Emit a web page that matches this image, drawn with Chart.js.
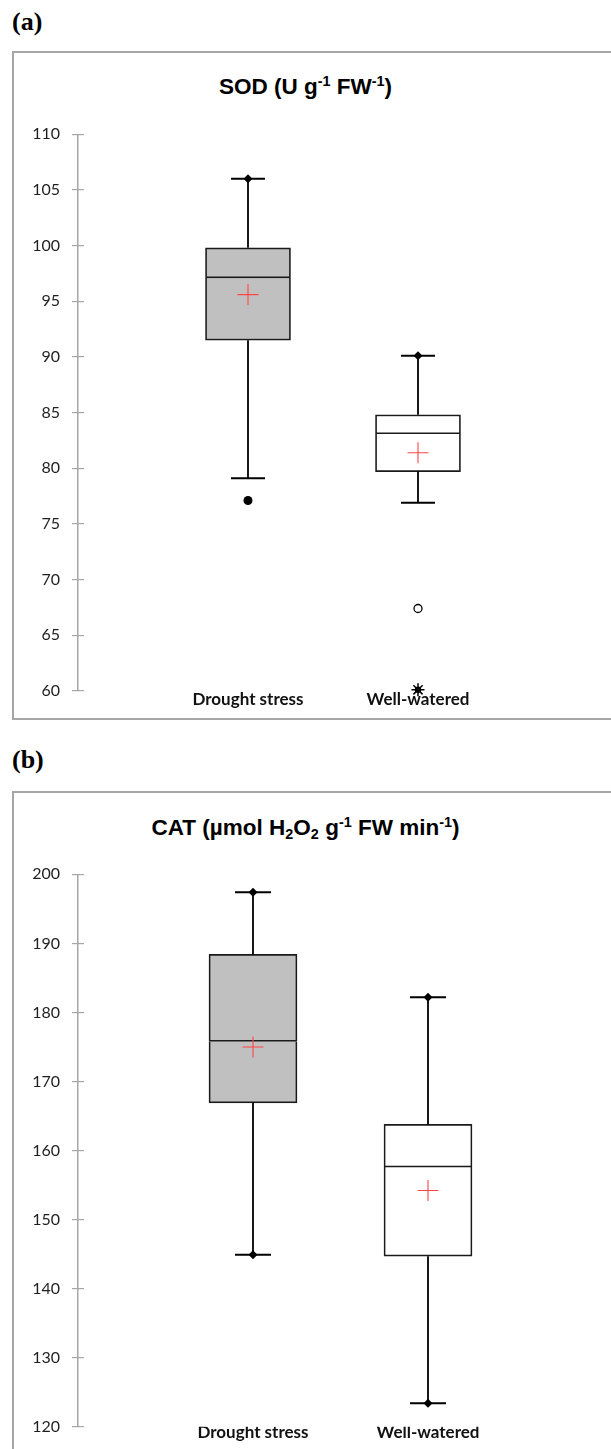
<!DOCTYPE html>
<html>
<head>
<meta charset="utf-8">
<script src="https://cdn.jsdelivr.net/npm/chart.js@4.4.0/dist/chart.umd.min.js"></script>
<style>
  body { margin: 0; width: 611px; height: 1449px; background: #fff; position: relative; overflow: hidden; }
  .tag { position: absolute; left: 12px; font-family: "Liberation Serif", "Times New Roman", serif; font-weight: bold; font-size: 26px; line-height: 1; }
  .frame { position: absolute; left: 12px; width: 640px; border: 2px solid #a6a6a6; }
  .title { position: absolute; left: 0; width: 611px; text-align: center; font-family: "Liberation Sans", Arial, sans-serif; font-weight: bold; font-size: 22.5px; line-height: 1; color: #000; }
  .title sup, .title sub { font-size: 0.64em; vertical-align: baseline; position: relative; line-height: 0; }
  .title sup { top: -0.55em; }
  .title sub { top: 0.3em; }
  canvas { position: absolute; left: 0; }
</style>
</head>
<body>
<div class="tag" style="top:9px">(a)</div>
<div class="frame" style="top:51px; height:665px"></div>
<div class="title" style="top:76px">SOD (U g<sup>-1</sup> FW<sup>-1</sup>)</div>
<canvas id="sod-chart" width="611" height="615" style="top:100px"></canvas>

<div class="tag" style="top:747px">(b)</div>
<div class="frame" style="top:791px; height:700px"></div>
<div class="title" style="top:817px">CAT (µmol H<sub>2</sub>O<sub>2</sub> g<sup>-1</sup> FW min<sup>-1</sup>)</div>
<canvas id="cat-chart" width="611" height="609" style="top:840px"></canvas>

<script>
const groups = ["Drought stress", "Well-watered"];
const groupX = [1, 2];

// (a) SOD
const sodLow = [79.1, 76.9];
const sodQ1 = [91.5, 79.7];
const sodMedian = [97.1, 83.1];
const sodQ3 = [99.8, 84.8];
const sodHigh = [106.0, 90.1];
const sodMean = [95.6, 81.4];
const sodMinMark = [null, null];
const sodMaxMark = [106.0, 90.1];
const sodOutFilled = [77.1, null];
const sodOutOpen = [null, 67.4];
const sodOutStar = [null, 60.1];
const sodAxis = [60, 110, 5];

// (b) CAT
const catLow = [144.9, 123.4];
const catQ1 = [166.9, 144.7];
const catMedian = [175.8, 157.6];
const catQ3 = [188.4, 163.8];
const catHigh = [197.4, 182.2];
const catMean = [175.0, 154.2];
const catMinMark = [144.9, 123.4];
const catMaxMark = [197.4, 182.2];
const catOutFilled = [null, null];
const catOutOpen = [null, null];
const catOutStar = [null, null];
const catAxis = [120, 200, 10];

const boxFill = ["#c0c0c0", "#ffffff"];

Chart.defaults.font.family = "Lato";

function pts(vals) {
    return vals.map((v, i) => ({ x: groupX[i], y: v })).filter(p => p.y !== null);
}

function whiskerPts(s) {
    const out = [];
    groupX.forEach((x, i) => {
        out.push({ x, y: s.q3[i] }, { x, y: s.high[i] }, { x, y: null });
        out.push({ x, y: s.q1[i] }, { x, y: s.low[i] }, { x, y: null });
    });
    return out;
}

function boxChart(id, s, o) {
    const [yMin, yMax, yStep] = s.axis;
    return new Chart(document.getElementById(id), {
        type: "bar",
        data: {
            datasets: [
                // mean
                { type: "scatter", order: 1, data: pts(s.mean), pointStyle: "cross", pointRadius: 10.5,
                  borderColor: "#ff4545", pointBorderColor: "#ff4545", pointBorderWidth: 1.1, clip: false },
                // min / max marks
                { type: "scatter", order: 2, data: pts(s.maxMark).concat(pts(s.minMark)), pointStyle: "rectRot",
                  pointRadius: 4.5, backgroundColor: "#000", pointBackgroundColor: "#000", pointBorderWidth: 0, clip: false },
                // outliers
                { type: "scatter", order: 2, data: pts(s.outFilled), pointStyle: "circle", pointRadius: 4.5,
                  pointBackgroundColor: "#000", pointBorderColor: "#000", pointBorderWidth: 0, clip: false },
                { type: "scatter", order: 2, data: pts(s.outOpen), pointStyle: "circle", pointRadius: 4,
                  pointBackgroundColor: "#fff", pointBorderColor: "#000", pointBorderWidth: 1.3, clip: false },
                { type: "scatter", order: 2, data: pts(s.outStar), pointStyle: "star", pointRadius: 6.5,
                  pointBorderColor: "#000", pointBorderWidth: 1.5, clip: false },
                { type: "scatter", order: 2, data: pts(s.outStar), pointStyle: "circle", pointRadius: 3.2,
                  pointBackgroundColor: "#000", pointBorderWidth: 0, clip: false },
                // whisker caps
                { type: "scatter", order: 3, data: pts(s.high).concat(pts(s.low)), pointStyle: "line",
                  pointRadius: o.cap, borderColor: "#000", pointBorderColor: "#000", pointBorderWidth: 2, clip: false },
                // whiskers
                { type: "line", order: 4, data: whiskerPts(s), borderColor: "#000", borderWidth: 1.8,
                  pointRadius: 0, spanGaps: false, clip: false },
                // box: median to q3
                { order: 5, data: s.median.map((v, i) => ({ x: groupX[i], y: [v, s.q3[i]] })),
                  backgroundColor: boxFill, borderColor: "#1a1a1a", borderWidth: 1.7, borderSkipped: false,
                  barThickness: o.box, grouped: false },
                // box: q1 to median
                { order: 6, data: s.q1.map((v, i) => ({ x: groupX[i], y: [v, s.median[i]] })),
                  backgroundColor: boxFill, borderColor: "#1a1a1a", borderWidth: 1.7, borderSkipped: "top",
                  barThickness: o.box, grouped: false }
            ]
        },
        options: {
            responsive: false,
            animation: false,
            devicePixelRatio: 1,
            layout: { padding: o.padding, autoPadding: false },
            plugins: { legend: { display: false }, tooltip: { enabled: false } },
            events: [],
            scales: {
                x: {
                    type: "linear", min: 0, max: 3, offset: false,
                    grid: { display: false, drawTicks: false, offset: false },
                    border: { display: false },
                    ticks: {
                        stepSize: 1, autoSkip: false, maxRotation: 0, padding: o.labelPad,
                        color: "#111", font: { size: 17, weight: "bold" },
                        callback: v => groups[v - 1] || ""
                    },
                    afterFit: sc => { sc.height = 20; }
                },
                y: {
                    min: yMin, max: yMax, position: "left",
                    border: { color: "#a6a6a6", width: 1.5 },
                    grid: { drawOnChartArea: false, color: "#a6a6a6", lineWidth: 1.2, tickLength: 6 },
                    ticks: { stepSize: yStep, padding: 12, color: "#1f1f1f", font: { size: 16 } },
                    afterFit: sc => { sc.width = 50; }
                },
                y2: {
                    axis: "y", min: yMin, max: yMax, position: { x: o.innerTick },
                    border: { display: false },
                    grid: { drawOnChartArea: false, color: "#a6a6a6", lineWidth: 1.2, tickLength: 6 },
                    ticks: { display: false, stepSize: yStep }
                }
            }
        }
    });
}

boxChart("sod-chart", {
    low: sodLow, q1: sodQ1, median: sodMedian, q3: sodQ3, high: sodHigh, mean: sodMean,
    minMark: sodMinMark, maxMark: sodMaxMark,
    outFilled: sodOutFilled, outOpen: sodOutOpen, outStar: sodOutStar, axis: sodAxis
}, { padding: { left: 28, right: 23, top: 34.3, bottom: 4.1 }, box: 85, cap: 17, labelPad: -1.5, innerTick: 0.0353 });

boxChart("cat-chart", {
    low: catLow, q1: catQ1, median: catMedian, q3: catQ3, high: catHigh, mean: catMean,
    minMark: catMinMark, maxMark: catMaxMark,
    outFilled: catOutFilled, outOpen: catOutOpen, outStar: catOutStar, axis: catAxis
}, { padding: { left: 28, right: 8, top: 34.3, bottom: 2.3 }, box: 88, cap: 18, labelPad: -4.4, innerTick: 0.0343 });
</script>
</body>
</html>
